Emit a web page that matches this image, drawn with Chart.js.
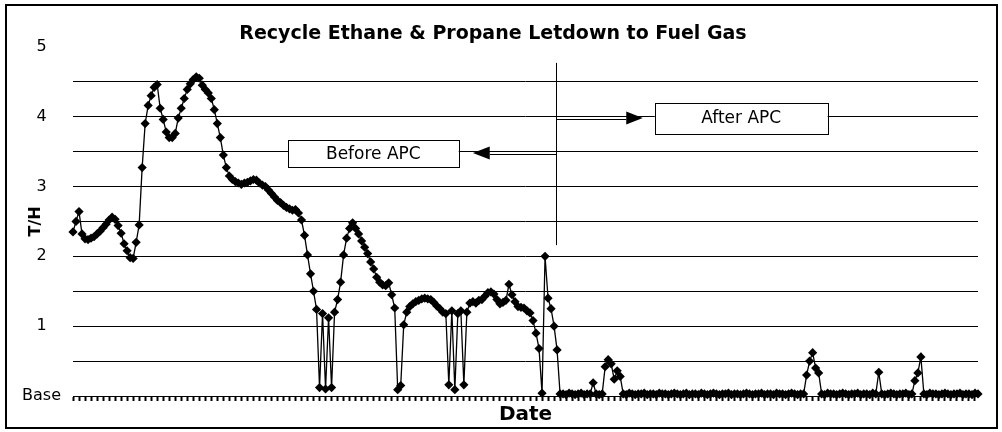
<!DOCTYPE html>
<html>
<head>
<meta charset="utf-8">
<title>Recycle Ethane &amp; Propane Letdown to Fuel Gas</title>
<script src="https://cdn.jsdelivr.net/npm/chart.js@4"></script>
<style>
  html, body { margin: 0; padding: 0; background: #fff; }
  #wrap { width: 1002px; height: 432px; position: relative; }
</style>
</head>
<body>
<div id="wrap"><canvas id="chart"></canvas></div>
<script>
const tphBeforeApc = [
  2.35, 2.5, 2.64, 2.32, 2.25, 2.24, 2.26, 2.28, 2.32, 2.36,
  2.41, 2.46, 2.52, 2.56, 2.53, 2.44, 2.33, 2.18, 2.08, 1.98,
  1.97, 2.2, 2.45, 3.27, 3.9, 4.16, 4.3, 4.42, 4.46, 4.12,
  3.96, 3.78, 3.7, 3.7, 3.76, 3.98, 4.12, 4.26, 4.39, 4.47,
  4.53, 4.57, 4.55, 4.45, 4.39, 4.34, 4.26, 4.1, 3.9, 3.7,
  3.45, 3.27, 3.15, 3.1, 3.07, 3.05, 3.03, 3.05, 3.06, 3.08,
  3.1, 3.09, 3.05, 3.02, 3.0, 2.95, 2.9, 2.85, 2.8, 2.77,
  2.73, 2.7, 2.68, 2.66, 2.67, 2.62, 2.52, 2.3, 2.02, 1.75,
  1.5, 1.24, 0.12, 1.18, 0.1, 1.12, 0.12, 1.2, 1.38, 1.63,
  2.02, 2.26, 2.4, 2.48, 2.4, 2.32, 2.22, 2.13, 2.04, 1.92,
  1.82, 1.7, 1.63, 1.59, 1.58, 1.62, 1.45, 1.26, 0.09, 0.15,
  1.02, 1.2, 1.28, 1.32, 1.35, 1.37, 1.39, 1.4, 1.39, 1.38,
  1.34, 1.29, 1.25, 1.2, 1.18, 0.16, 1.22, 0.09, 1.18, 1.22,
  0.16, 1.2, 1.33, 1.35, 1.33, 1.37, 1.38, 1.43, 1.48, 1.49,
  1.46, 1.38, 1.32, 1.34, 1.37, 1.6, 1.45, 1.35, 1.28, 1.27,
  1.26, 1.22, 1.19, 1.08, 0.9, 0.68, 0.04, 2.0, 1.4, 1.25,
  1.0
];
const tphAfterApc = [
  0.66, 0.03,
  0.03, 0.02, 0.04, 0.03, 0.02, 0.03, 0.04, 0.02, 0.03, 0.03,
  0.19, 0.03, 0.02, 0.03, 0.42, 0.52, 0.46, 0.24, 0.36, 0.28,
  0.03, 0.02, 0.04, 0.03, 0.02, 0.03, 0.03, 0.04, 0.02, 0.03,
  0.03, 0.02, 0.04, 0.03, 0.03, 0.02, 0.03, 0.04, 0.03, 0.02,
  0.03, 0.04, 0.02, 0.03, 0.03, 0.02, 0.04, 0.03, 0.02, 0.03,
  0.04, 0.03, 0.02, 0.03, 0.03, 0.04, 0.02, 0.03, 0.03, 0.02,
  0.03, 0.04, 0.03, 0.02, 0.03, 0.03, 0.04, 0.02, 0.03, 0.03,
  0.02, 0.04, 0.03, 0.03, 0.02, 0.03, 0.04, 0.03, 0.02, 0.03,
  0.03, 0.3, 0.5, 0.62, 0.4, 0.33, 0.03, 0.02, 0.04, 0.03,
  0.03, 0.02, 0.03, 0.04, 0.03, 0.02, 0.03, 0.03, 0.04, 0.02,
  0.03, 0.03, 0.02, 0.04, 0.03, 0.34, 0.03, 0.02, 0.03, 0.04,
  0.03, 0.02, 0.03, 0.03, 0.04, 0.02, 0.03, 0.22, 0.33, 0.56,
  0.03, 0.02, 0.04, 0.03, 0.03, 0.02, 0.03, 0.04, 0.03, 0.02,
  0.03, 0.03, 0.04, 0.02, 0.03, 0.03, 0.02, 0.04, 0.03
];
const yTickLabels = ['Base', '1', '2', '3', '4', '5'];
const noteTexts = ['Before APC', 'After APC'];

const tph = tphBeforeApc.concat(tphAfterApc);
const samples = tph.map((v, i) => String(i + 1));
const switchAt = tphBeforeApc.length - 0.3;

function line(ctx, x1, y1, x2, y2) {
  ctx.beginPath();
  ctx.moveTo(x1, y1);
  ctx.lineTo(x2, y2);
  ctx.stroke();
}

function arrowHead(ctx, baseX, tipX, cy, half) {
  ctx.beginPath();
  ctx.moveTo(baseX, cy - half);
  ctx.lineTo(tipX, cy);
  ctx.lineTo(baseX, cy + half);
  ctx.closePath();
  ctx.fill();
}

function noteBox(ctx, text, x1, y1, x2, y2) {
  ctx.fillStyle = '#fff';
  ctx.fillRect(x1, y1, x2 - x1, y2 - y1);
  ctx.strokeRect(Math.round(x1) + 0.5, Math.round(y1) + 0.5, Math.round(x2 - x1), Math.round(y2 - y1));
  ctx.fillStyle = '#000';
  ctx.font = '17px "DejaVu Sans"';
  ctx.textAlign = 'center';
  ctx.textBaseline = 'middle';
  ctx.fillText(text, (x1 + x2) / 2, (y1 + y2) / 2 + 1);
}

const apcNotes = {
  id: 'apcNotes',
  afterDraw(chart) {
    const {ctx} = chart;
    const x = chart.scales.x, y = chart.scales.y;
    ctx.save();
    ctx.strokeStyle = '#000';
    ctx.fillStyle = '#000';
    ctx.lineWidth = 1;

    // changeover line
    const cx = Math.round(x.getPixelForValue(switchAt)) + 0.5;
    line(ctx, cx, y.getPixelForValue(4.77), cx, y.getPixelForValue(2.16));

    // arrow to "After APC"
    let gy = Math.round(y.getPixelForValue(4)) - 0.5;
    const aBase = x.getPixelForValue(184);
    line(ctx, cx, gy, aBase, gy);
    line(ctx, cx, gy + 3, aBase, gy + 3);
    arrowHead(ctx, aBase, x.getPixelForValue(189.5), gy + 1.5, 6.5);
    noteBox(ctx, noteTexts[1], x.getPixelForValue(193.5), y.getPixelForValue(4.2),
      x.getPixelForValue(251), y.getPixelForValue(3.76));

    // arrow to "Before APC"
    gy = Math.round(y.getPixelForValue(3.5)) - 0.5;
    const bBase = x.getPixelForValue(138.6);
    ctx.strokeStyle = '#000';
    line(ctx, cx, gy, bBase, gy);
    line(ctx, cx, gy + 3, bBase, gy + 3);
    arrowHead(ctx, bBase, x.getPixelForValue(133), gy + 1.5, 6.5);
    noteBox(ctx, noteTexts[0], x.getPixelForValue(71.5), y.getPixelForValue(3.66),
      x.getPixelForValue(128.3), y.getPixelForValue(3.28));

    // outer frame
    ctx.lineWidth = 2;
    ctx.strokeRect(6, 5, 991, 423);
    ctx.restore();
  }
};

new Chart(document.getElementById('chart'), {
  type: 'line',
  data: {
    labels: samples,
    datasets: [{
      label: 'T/H',
      data: tph,
      borderColor: '#000',
      borderWidth: 1.3,
      backgroundColor: '#000',
      pointStyle: 'rectRot',
      pointRadius: 4.6,
      pointBorderWidth: 0,
      pointBackgroundColor: '#000',
      tension: 0,
      clip: false
    }]
  },
  options: {
    responsive: true,
    maintainAspectRatio: false,
    animation: false,
    layout: { padding: { left: 8, right: 24, top: 8, bottom: 4 } },
    plugins: {
      legend: { display: false },
      tooltip: { enabled: false },
      title: {
        display: true,
        text: 'Recycle Ethane & Propane Letdown to Fuel Gas',
        color: '#000',
        font: { family: '"DejaVu Sans"', size: 19, weight: 'bold' },
        padding: { top: 15, bottom: 1 }
      }
    },
    scales: {
      x: {
        type: 'category',
        grid: {
          drawOnChartArea: false,
          drawTicks: true,
          tickLength: 5,
          tickWidth: 2,
          tickColor: ctx => (ctx.index % 2 === 0 ? '#000' : 'rgba(0,0,0,0)')
        },
        border: { display: true, color: '#000', width: 1 },
        ticks: { display: false },
        title: {
          display: true,
          text: 'Date',
          color: '#000',
          font: { family: '"DejaVu Sans"', size: 20, weight: 'bold' },
          padding: { top: 0, bottom: 1 }
        },
        afterFit(scale) { scale.height = 32; }
      },
      y: {
        min: 0,
        max: 5,
        grid: {
          drawTicks: false,
          color: ctx => (ctx.tick && ctx.tick.value > 0 && ctx.tick.value < 5 ? '#000' : 'rgba(0,0,0,0)'),
          lineWidth: 1
        },
        border: { display: false },
        ticks: {
          stepSize: 0.5,
          color: '#000',
          padding: 12,
          crossAlign: 'center',
          font: { family: '"DejaVu Sans"', size: 16 },
          callback: v => (Number.isInteger(v) ? yTickLabels[v] : '')
        },
        title: {
          display: true,
          text: 'T/H',
          color: '#000',
          font: { family: '"DejaVu Sans"', size: 16, weight: 'bold' },
          padding: { top: 18, bottom: 0 }
        },
        afterFit(scale) { scale.width = 65; }
      }
    }
  },
  plugins: [apcNotes]
});
</script>
</body>
</html>
